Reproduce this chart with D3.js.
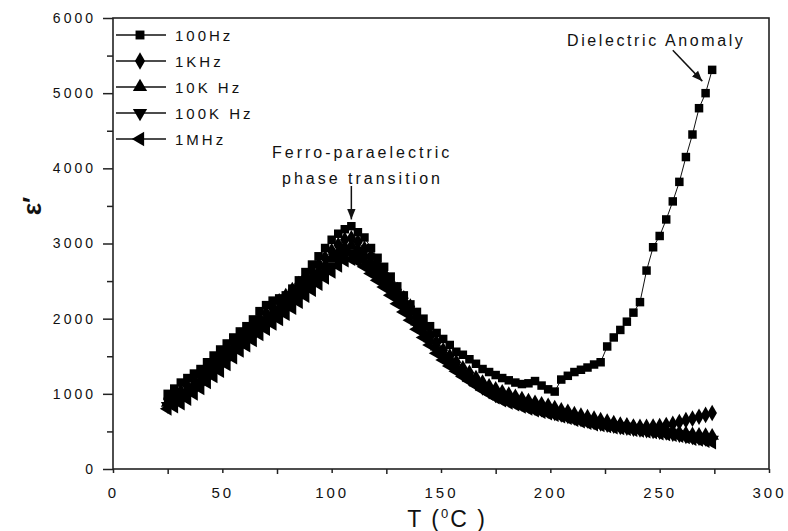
<!DOCTYPE html>
<html>
  <head>
    <meta charset="utf-8">
    <title>Dielectric constant vs temperature</title>
    <script src="https://d3js.org/d3.v7.min.js"></script>
    <style>
      body { margin: 0; background: #fff; }
      text { font-family: "Liberation Sans", Arial, sans-serif; fill: #111; }
    </style>
  </head>
  <body>
  <script>
  // temperatures (deg C) shared by every frequency
  var temps = [25, 28, 31, 34, 37, 40, 43, 46, 49, 52, 55, 58, 61, 64, 67, 70, 73, 76, 79, 82,
               85, 88, 91, 94, 97, 100, 103, 106, 109, 112, 115, 118, 121, 124, 127, 130, 133, 136, 139, 142,
               145, 148, 151, 154, 157, 160, 163, 166, 169, 172, 175, 178, 181, 184, 187, 190, 193, 196, 199, 202,
               205, 208, 211, 214, 217, 220, 223, 226, 229, 232, 235, 238, 241, 244, 247, 250, 253, 256, 259, 262,
               265, 268, 271, 274];

  var eps100Hz = [1000, 1070, 1150, 1210, 1270, 1330, 1420, 1510, 1590, 1670, 1750, 1830, 1900, 1990, 2100, 2180, 2240, 2270, 2310, 2400,
                  2510, 2620, 2720, 2830, 2940, 3050, 3130, 3190, 3230, 3150, 3080, 2940, 2810, 2690, 2560, 2430, 2310, 2190, 2090, 2000,
                  1900, 1810, 1730, 1650, 1560, 1520, 1460, 1400, 1330, 1290, 1250, 1210, 1180, 1150, 1130, 1140, 1170, 1110, 1060, 1030,
                  1190, 1240, 1290, 1320, 1350, 1390, 1420, 1630, 1750, 1850, 1960, 2080, 2220, 2640, 2950, 3100, 3320, 3560, 3820, 4150,
                  4450, 4800, 5000, 5310];

  var eps1KHz = [930, 980, 1030, 1100, 1180, 1250, 1340, 1430, 1530, 1610, 1690, 1770, 1840, 1920, 2000, 2070, 2150, 2230, 2300, 2380,
                 2460, 2550, 2630, 2720, 2810, 2900, 2980, 3050, 3070, 3020, 2930, 2830, 2720, 2600, 2490, 2380, 2270, 2160, 2020, 1900,
                 1790, 1680, 1580, 1500, 1420, 1340, 1280, 1210, 1150, 1100, 1060, 1020, 990, 960, 930, 905, 880, 860, 840, 810,
                 780, 760, 730, 710, 690, 670, 650, 630, 610, 590, 580, 565, 560, 560, 565, 570, 585, 600, 625, 650,
                 670, 695, 720, 745];

  var eps10KHz = [880, 920, 970, 1040, 1110, 1180, 1270, 1360, 1450, 1530, 1610, 1700, 1770, 1840, 1920, 1990, 2070, 2140, 2210, 2290,
                  2370, 2460, 2540, 2620, 2710, 2800, 2880, 2950, 2970, 2920, 2840, 2740, 2650, 2540, 2430, 2320, 2210, 2100, 1960, 1850,
                  1740, 1630, 1540, 1460, 1380, 1300, 1240, 1180, 1120, 1070, 1020, 980, 950, 925, 900, 875, 850, 830, 810, 780,
                  760, 740, 710, 690, 670, 650, 630, 615, 600, 585, 575, 560, 550, 540, 530, 520, 510, 500, 485, 475,
                  460, 455, 450, 440];

  var eps100KHz = [840, 880, 920, 980, 1050, 1120, 1200, 1290, 1370, 1450, 1540, 1630, 1700, 1770, 1850, 1920, 1990, 2060, 2130, 2210,
                   2290, 2380, 2460, 2540, 2620, 2700, 2780, 2850, 2870, 2830, 2760, 2670, 2580, 2480, 2370, 2260, 2150, 2040, 1910, 1800,
                   1700, 1590, 1500, 1420, 1340, 1260, 1200, 1140, 1080, 1030, 980, 950, 920, 895, 865, 840, 810, 790, 770, 740,
                   720, 700, 680, 660, 640, 620, 600, 585, 570, 555, 545, 530, 520, 510, 500, 490, 480, 465, 450, 435,
                   420, 410, 400, 390];

  var eps1MHz = [800, 830, 870, 930, 1000, 1070, 1150, 1230, 1300, 1390, 1480, 1570, 1640, 1710, 1790, 1860, 1930, 1990, 2060, 2140,
                 2220, 2300, 2380, 2460, 2540, 2620, 2700, 2770, 2790, 2760, 2690, 2600, 2510, 2420, 2310, 2200, 2090, 1980, 1860, 1750,
                 1650, 1540, 1450, 1370, 1300, 1230, 1170, 1110, 1050, 1000, 950, 910, 880, 855, 825, 800, 775, 755, 735, 715,
                 695, 675, 650, 630, 610, 590, 580, 565, 550, 540, 530, 515, 505, 495, 485, 470, 460, 450, 435, 420,
                 395, 385, 370, 350];

  var seriesNames = ["100Hz", "1KHz", "10K Hz", "100K Hz", "1MHz"];
  var xTicks = [0, 50, 100, 150, 200, 250, 300];
  var xMinor = [25, 75, 125, 175, 225, 275];
  var yTicks = [0, 1000, 2000, 3000, 4000, 5000, 6000];
  var yMinor = [500, 1500, 2500, 3500, 4500, 5500];

  var series = [
    {name: seriesNames[0], values: eps100Hz,  symbol: d3.symbolSquare,   size: 72, rot: 0},
    {name: seriesNames[1], values: eps1KHz,   symbol: d3.symbolDiamond,  size: 80, rot: 0},
    {name: seriesNames[2], values: eps10KHz,  symbol: d3.symbolTriangle, size: 80, rot: 0},
    {name: seriesNames[3], values: eps100KHz, symbol: d3.symbolTriangle, size: 80, rot: 180},
    {name: seriesNames[4], values: eps1MHz,   symbol: d3.symbolTriangle, size: 80, rot: -90}
  ];

  var svg = d3.select("body").append("svg")
              .attr("width", 788)
              .attr("height", 531);

  var x = d3.scaleLinear().domain([0, 300]).range([113, 769]);
  var y = d3.scaleLinear().domain([0, 6000]).range([469, 18]);

  // axes
  var gx = svg.append("g").attr("transform", "translate(0," + y(0) + ")")
              .call(d3.axisBottom(x).tickValues(xTicks).tickFormat(d3.format("d"))
                      .tickSize(4).tickPadding(14).tickSizeOuter(0));
  svg.append("g").attr("transform", "translate(0," + y(0) + ")")
     .call(d3.axisBottom(x).tickValues(xMinor).tickSize(5).tickFormat("").tickSizeOuter(0));
  var gy = svg.append("g").attr("transform", "translate(" + x(0) + ",0)")
              .call(d3.axisLeft(y).tickValues(yTicks).tickFormat(d3.format("d"))
                      .tickSize(10).tickPadding(7).tickSizeOuter(0));
  svg.append("g").attr("transform", "translate(" + x(0) + ",0)")
     .call(d3.axisLeft(y).tickValues(yMinor).tickSize(6).tickFormat("").tickSizeOuter(0));

  svg.selectAll(".domain").remove();
  svg.selectAll(".tick line").attr("stroke", "#222").attr("stroke-width", 1.5);
  gx.selectAll("text").style("font-size", "15px").style("letter-spacing", "3px")
    .style("font-family", "'Liberation Sans', Arial, sans-serif").attr("fill", "#111");
  gy.selectAll("text").style("font-size", "14px").style("letter-spacing", "3px")
    .style("font-family", "'Liberation Sans', Arial, sans-serif").attr("fill", "#111");

  // frame
  svg.append("rect")
     .attr("x", x(0)).attr("y", y(6000))
     .attr("width", x(300) - x(0)).attr("height", y(0) - y(6000))
     .attr("fill", "none").attr("stroke", "#222").attr("stroke-width", 1.6);

  // series, 100Hz drawn last
  var line = d3.line()
               .x(function(d, i) { return x(temps[i]); })
               .y(function(d) { return y(d); });

  series.slice().reverse().forEach(function(s) {
    svg.append("path")
       .attr("d", line(s.values))
       .attr("fill", "none")
       .attr("stroke", "#111")
       .attr("stroke-width", 1);
    svg.append("g").selectAll("path")
       .data(s.values)
       .enter()
       .append("path")
       .attr("d", d3.symbol().type(s.symbol).size(s.size))
       .attr("transform", function(d, i) { return "translate(" + x(temps[i]) + "," + y(d) + ") rotate(" + s.rot + ")"; })
       .attr("fill", "#000");
  });

  // legend
  var legend = svg.append("g").selectAll("g")
                  .data(series)
                  .enter()
                  .append("g")
                  .attr("transform", function(d, i) { return "translate(0," + (35 + i * 26) + ")"; });
  legend.append("line")
        .attr("x1", 116).attr("x2", 166)
        .attr("stroke", "#111").attr("stroke-width", 1.5);
  legend.append("path")
        .attr("d", function(d) { return d3.symbol().type(d.symbol).size(d.size * 1.1)(); })
        .attr("transform", function(d) { return "translate(140,0) rotate(" + d.rot + ")"; })
        .attr("fill", "#000");
  legend.append("text")
        .attr("x", 175).attr("y", 5.5)
        .style("font-size", "15px").style("letter-spacing", "3px")
        .text(function(d) { return d.name; });

  // axis titles
  var xt = svg.append("text")
              .attr("x", 447).attr("y", 527)
              .attr("text-anchor", "middle")
              .style("font-size", "23px").style("letter-spacing", "2px");
  xt.append("tspan").text("T (");
  xt.append("tspan").attr("dy", -9).style("font-size", "13px").text("0");
  xt.append("tspan").attr("dy", 9).text("C )");

  svg.append("text")
     .attr("transform", "translate(41,206) rotate(-90)")
     .attr("text-anchor", "middle")
     .style("font-size", "26px").style("font-weight", "bold")
     .text("\u03b5\u2032");

  // annotations
  svg.append("defs").append("marker")
     .attr("id", "arrow").attr("viewBox", "0 0 10 10")
     .attr("refX", 10).attr("refY", 5)
     .attr("markerWidth", 7).attr("markerHeight", 7)
     .attr("orient", "auto")
     .append("path").attr("d", "M0,1 L10,5 L0,9 Z").attr("fill", "#111");

  svg.append("text")
     .attr("x", 567).attr("y", 46)
     .style("font-size", "16px").style("letter-spacing", "2.6px")
     .text("Dielectric Anomaly");
  svg.append("line")
     .attr("x1", x(256)).attr("y1", y(5570))
     .attr("x2", x(269.5)).attr("y2", y(5160))
     .attr("stroke", "#111").attr("stroke-width", 1.5)
     .attr("marker-end", "url(#arrow)");

  svg.append("text")
     .attr("x", 272).attr("y", 158)
     .style("font-size", "16px").style("letter-spacing", "3px")
     .text("Ferro-paraelectric");
  svg.append("text")
     .attr("x", 282).attr("y", 184)
     .style("font-size", "16px").style("letter-spacing", "3px")
     .text("phase transition");
  svg.append("line")
     .attr("x1", x(109)).attr("y1", 186)
     .attr("x2", x(109)).attr("y2", y(3320))
     .attr("stroke", "#111").attr("stroke-width", 1.5)
     .attr("marker-end", "url(#arrow)");
  </script>
  </body>
</html>
